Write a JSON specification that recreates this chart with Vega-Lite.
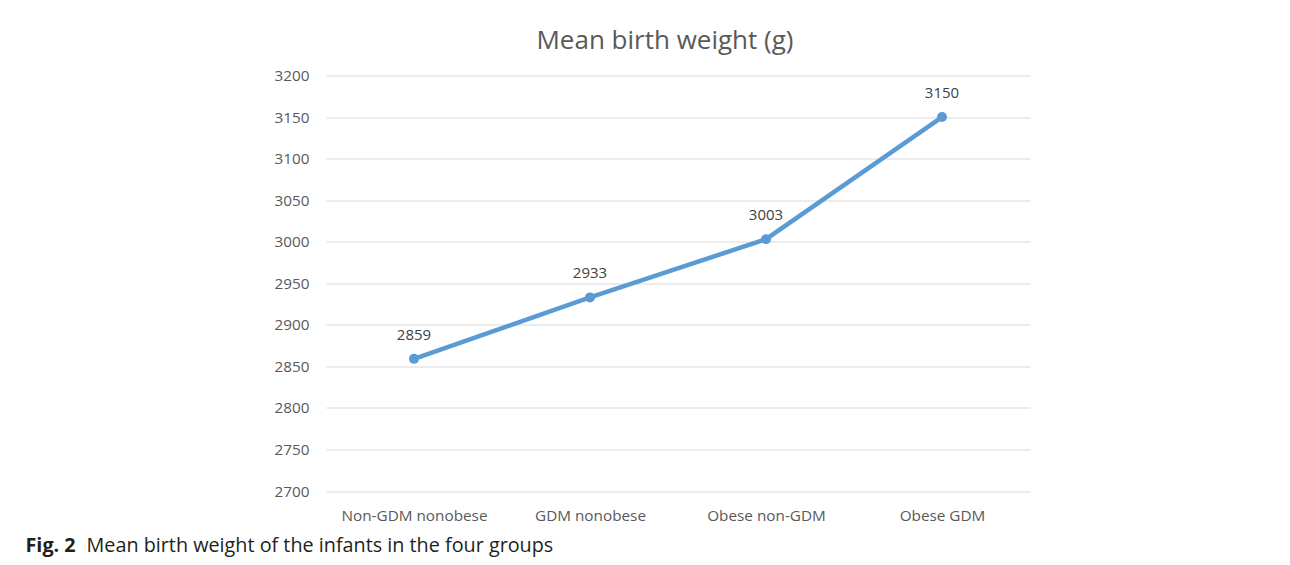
{
  "$schema": "https://vega.github.io/schema/vega-lite/v6.json",
  "width": 704,
  "height": 415.5,
  "autosize": {"type": "none"},
  "padding": {"left": 326, "top": 75.5, "right": 260, "bottom": 74},
  "background": "white",
  "config": {
    "font": "Open Sans",
    "view": {"stroke": null}
  },
  "title": {
    "text": "Mean birth weight (g)",
    "fontSize": 26,
    "fontWeight": "normal",
    "color": "#595959",
    "anchor": "middle",
    "dx": -13,
    "offset": 15
  },
  "data": {
    "values": [
      {"group": "Non-GDM nonobese", "weight": 2859},
      {"group": "GDM nonobese", "weight": 2933},
      {"group": "Obese non-GDM", "weight": 3003},
      {"group": "Obese GDM", "weight": 3150}
    ]
  },
  "encoding": {
    "x": {
      "field": "group",
      "type": "nominal",
      "sort": null,
      "scale": {"type": "point", "padding": 0.5},
      "axis": {
        "title": "Mean birth weight of the infants in the four groups",
        "titleFontSize": 19.8,
        "titleFontWeight": "normal",
        "titleColor": "#231F20",
        "titleAlign": "left",
        "titleAnchor": null,
        "titleBaseline": "alphabetic",
        "titleX": -240,
        "titleY": 60,
        "labelAngle": 0,
        "labelFontSize": 15.3,
        "labelColor": "#595959",
        "labelPadding": 17,
        "domain": false,
        "ticks": false,
        "grid": false
      }
    },
    "y": {
      "field": "weight",
      "type": "quantitative",
      "scale": {"domain": [2700, 3200], "zero": false, "nice": false},
      "axis": {
        "values": [2700, 2750, 2800, 2850, 2900, 2950, 3000, 3050, 3100, 3150, 3200],
        "format": "d",
        "title": "Fig. 2",
        "titleFontSize": 19.8,
        "titleFontWeight": "bold",
        "titleColor": "#231F20",
        "titleAngle": 0,
        "titleAlign": "left",
        "titleAnchor": null,
        "titleBaseline": "alphabetic",
        "titleX": -301,
        "titleY": 476,
        "labelFontSize": 15.3,
        "labelColor": "#595959",
        "labelPadding": 17,
        "domain": false,
        "ticks": false,
        "grid": true,
        "gridColor": "#D9D9D9",
        "gridWidth": 1
      }
    }
  },
  "layer": [
    {
      "mark": {"type": "line", "color": "#5B9BD5", "strokeWidth": 4.5}
    },
    {
      "mark": {"type": "point", "filled": true, "color": "#5B9BD5", "size": 100, "opacity": 1}
    },
    {
      "mark": {"type": "text", "baseline": "alphabetic", "dy": -19, "fontSize": 15, "color": "#404040"},
      "encoding": {"text": {"field": "weight", "type": "quantitative", "format": "d"}}
    }
  ]
}
